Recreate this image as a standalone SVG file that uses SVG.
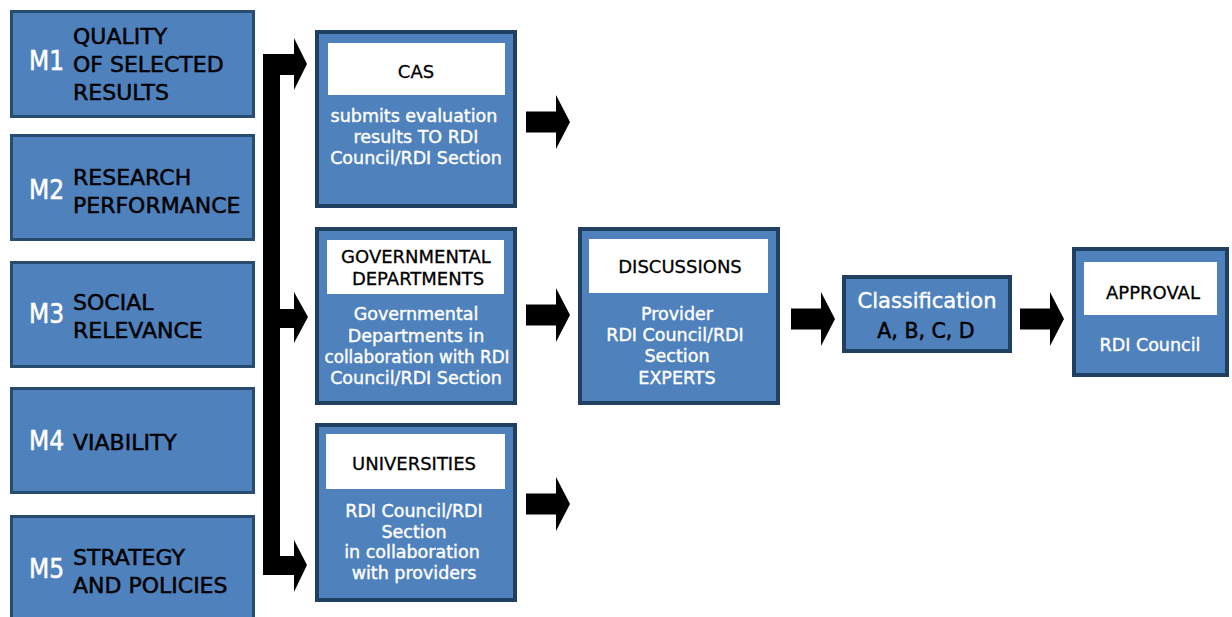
<svg xmlns="http://www.w3.org/2000/svg" width="1232" height="617" viewBox="0 0 1232 617">
<style>
.mbox{fill:#4F81BD;stroke:#284B70;stroke-width:3}
.pbox{fill:#4F81BD;stroke:#213F60;stroke-width:4}
.hdr{fill:#FFFFFF}
.mlab{font-family:"DejaVu Sans Condensed","DejaVu Sans",sans-serif;font-size:26px;fill:#FFFFFF;stroke:#FFFFFF;stroke-width:0.5}
.mtxt{font-family:"DejaVu Sans",sans-serif;font-size:22px;fill:#000000;stroke:#000000;stroke-width:0.5}
.htxt{font-family:"DejaVu Sans",sans-serif;font-size:18px;fill:#000000;text-anchor:middle;stroke:#000000;stroke-width:0.3}
.wtxt{font-family:"DejaVu Sans",sans-serif;font-size:17.5px;fill:#FFFFFF;text-anchor:middle;stroke:#FFFFFF;stroke-width:0.4}
.conn{fill:#000000}
</style>
<defs>
<path id="arr" d="M0,-10.5 H30 V-27 L44,0 L30,27 V10.5 H0 Z"/>
</defs>
<rect width="1232" height="617" fill="#FFFFFF"/>

<g id="m1">
<rect class="mbox" x="11.5" y="11.5" width="242" height="105"/>
<text class="mlab" x="29" y="70">M1</text>
<text class="mtxt" x="73" y="44">QUALITY</text>
<text class="mtxt" x="73" y="72">OF SELECTED</text>
<text class="mtxt" x="73" y="100">RESULTS</text>
</g>
<g id="m2">
<rect class="mbox" x="11.5" y="135.5" width="242" height="104"/>
<text class="mlab" x="29" y="199">M2</text>
<text class="mtxt" x="73" y="185">RESEARCH</text>
<text class="mtxt" x="73" y="213">PERFORMANCE</text>
</g>
<g id="m3">
<rect class="mbox" x="11.5" y="262.5" width="242" height="104"/>
<text class="mlab" x="29" y="323">M3</text>
<text class="mtxt" x="73" y="310">SOCIAL</text>
<text class="mtxt" x="73" y="338">RELEVANCE</text>
</g>
<g id="m4">
<rect class="mbox" x="11.5" y="388.5" width="242" height="104"/>
<text class="mlab" x="29" y="450">M4</text>
<text class="mtxt" x="73" y="450">VIABILITY</text>
</g>
<g id="m5">
<rect class="mbox" x="11.5" y="516.5" width="242" height="110"/>
<text class="mlab" x="29" y="578">M5</text>
<text class="mtxt" x="73" y="565">STRATEGY</text>
<text class="mtxt" x="73" y="593">AND POLICIES</text>
</g>

<g id="cas">
<rect class="pbox" x="317" y="32" width="198" height="174"/>
<rect class="hdr" x="328" y="43" width="177" height="52"/>
<text class="htxt" x="416" y="78">CAS</text>
<text class="wtxt" x="414" y="122">submits evaluation</text>
<text class="wtxt" x="416" y="143">results TO RDI</text>
<text class="wtxt" x="416" y="164">Council/RDI Section</text>
</g>
<g id="gov">
<rect class="pbox" x="317" y="229" width="198" height="174"/>
<rect class="hdr" x="327" y="240" width="177" height="54"/>
<text class="htxt" x="416" y="263">GOVERNMENTAL</text>
<text class="htxt" x="418" y="285">DEPARTMENTS</text>
<text class="wtxt" x="416" y="320">Governmental</text>
<text class="wtxt" x="416" y="342">Departments in</text>
<text class="wtxt" x="417" y="363" style="font-size:16.8px">collaboration with RDI</text>
<text class="wtxt" x="416" y="384">Council/RDI Section</text>
</g>
<g id="univ">
<rect class="pbox" x="317" y="425" width="198" height="175"/>
<rect class="hdr" x="326" y="434" width="179" height="55"/>
<text class="htxt" x="414" y="470">UNIVERSITIES</text>
<text class="wtxt" x="414" y="517">RDI Council/RDI</text>
<text class="wtxt" x="414" y="538">Section</text>
<text class="wtxt" x="412" y="558">in collaboration</text>
<text class="wtxt" x="414" y="579">with providers</text>
</g>
<g id="discussions">
<rect class="pbox" x="580" y="229" width="198" height="174"/>
<rect class="hdr" x="589" y="239" width="179" height="54"/>
<text class="htxt" x="680" y="273">DISCUSSIONS</text>
<text class="wtxt" x="677" y="320">Provider</text>
<text class="wtxt" x="675" y="341">RDI Council/RDI</text>
<text class="wtxt" x="677" y="362">Section</text>
<text class="wtxt" x="677" y="384">EXPERTS</text>
</g>
<g id="classification">
<rect class="pbox" x="844" y="277" width="166" height="74"/>
<text x="927" y="308" font-family="DejaVu Sans, sans-serif" font-size="21" fill="#FFFFFF" stroke="#FFFFFF" stroke-width="0.4" text-anchor="middle">Classification</text>
<text x="926" y="338" font-family="DejaVu Sans, sans-serif" font-size="20.5" fill="#000000" stroke="#000000" stroke-width="0.5" text-anchor="middle">A, B, C, D</text>
</g>
<g id="approval">
<rect class="pbox" x="1074" y="249" width="153" height="126"/>
<rect class="hdr" x="1084" y="262" width="133" height="53"/>
<text class="htxt" x="1153" y="299">APPROVAL</text>
<text class="wtxt" x="1150" y="351">RDI Council</text>
</g>

<g id="connectors">
<path class="conn" d="M263,54 H294 V38 L307,64 L294,90 V75 H280 V309 H294 V292 L308,317 L294,343 V328 H280 V556 H294 V540 L307,565 L294,592 V575 H263 Z"/>
<use href="#arr" class="conn" x="526" y="122"/>
<use href="#arr" class="conn" x="526" y="315"/>
<use href="#arr" class="conn" x="526" y="504"/>
<use href="#arr" class="conn" x="791" y="319"/>
<use href="#arr" class="conn" x="1020" y="319"/>
</g>
</svg>
